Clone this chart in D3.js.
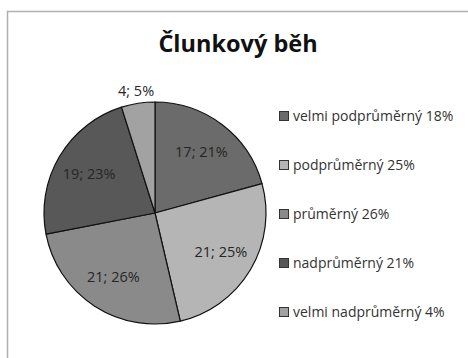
<!DOCTYPE html>
<html>
<head>
<meta charset="utf-8">
<script src="https://cdn.jsdelivr.net/npm/d3@7"></script>
<style>
  html, body { margin: 0; padding: 0; background: #ffffff; }
  svg { display: block; }
</style>
</head>
<body>
<svg id="chart" width="468" height="358"></svg>
<script>
// Shuttle-run results (počet žáků) per category
const categories = ["velmi podprůměrný", "podprůměrný", "průměrný", "nadprůměrný", "velmi nadprůměrný"];
const counts = [17, 21, 21, 19, 4];
const slicePercents = [21, 25, 26, 23, 5];
const legendPercents = [18, 25, 26, 21, 4];
const sliceColors = ["#6b6b6b", "#b5b5b5", "#8a8a8a", "#585858", "#a2a2a2"];

const svg = d3.select("#chart");
const W = 468, H = 358;
const fontFamily = "'Open Sans', 'Noto Sans', sans-serif";

// chart area frame
svg.append("rect")
  .attr("x", 7.5).attr("y", 11.5)
  .attr("width", W + 10).attr("height", H)
  .attr("fill", "#ffffff")
  .attr("stroke", "#b0b0b0")
  .attr("stroke-width", 1.5);

// title
svg.append("text")
  .attr("x", 238).attr("y", 52)
  .attr("text-anchor", "middle")
  .attr("font-family", fontFamily)
  .attr("font-weight", "bold")
  .attr("font-size", 23.5)
  .attr("fill", "#111111")
  .text("Člunkový běh");

// pie
const cx = 155, cy = 213, r = 111;
const pie = d3.pie().sort(null).value(d => d.count);
const data = categories.map((c, i) => ({ cat: c, count: counts[i], pct: slicePercents[i], color: sliceColors[i] }));
const arcs = pie(data);
const arc = d3.arc().innerRadius(0).outerRadius(r);
const labelArc = d3.arc().innerRadius(r * 0.69).outerRadius(r * 0.69);
const outerLabelArc = d3.arc().innerRadius(r + 13).outerRadius(r + 13);

const g = svg.append("g").attr("transform", `translate(${cx},${cy})`);
g.selectAll("path.slice")
  .data(arcs)
  .join("path")
  .attr("class", "slice")
  .attr("d", arc)
  .attr("fill", d => d.data.color)
  .attr("stroke", "#111111")
  .attr("stroke-width", 1.2)
  .attr("stroke-linejoin", "round");

g.selectAll("text.lbl")
  .data(arcs)
  .join("text")
  .attr("class", "lbl")
  .attr("transform", d => {
    const small = (d.endAngle - d.startAngle) < 0.5;
    const p = small ? outerLabelArc.centroid(d) : labelArc.centroid(d);
    return `translate(${p[0]},${p[1]})`;
  })
  .attr("text-anchor", "middle")
  .attr("dy", "0.35em")
  .attr("font-family", fontFamily)
  .attr("font-size", 14.5)
  .attr("fill", "#262626")
  .text(d => `${d.data.count}; ${d.data.pct}%`);

// legend
const legend = svg.append("g").attr("transform", "translate(279,116)");
const rowGap = 49;
const rows = legend.selectAll("g.row")
  .data(data)
  .join("g")
  .attr("class", "row")
  .attr("transform", (d, i) => `translate(0,${i * rowGap})`);
rows.append("rect")
  .attr("x", 0.5).attr("y", -4.5)
  .attr("width", 9).attr("height", 9)
  .attr("fill", d => d.color)
  .attr("stroke", "#333333")
  .attr("stroke-width", 1);
rows.append("text")
  .attr("x", 14).attr("y", 0)
  .attr("dy", "0.35em")
  .attr("font-family", fontFamily)
  .attr("font-size", 14)
  .attr("fill", "#333333")
  .text((d, i) => `${d.cat} ${legendPercents[i]}%`);
</script>
</body>
</html>
